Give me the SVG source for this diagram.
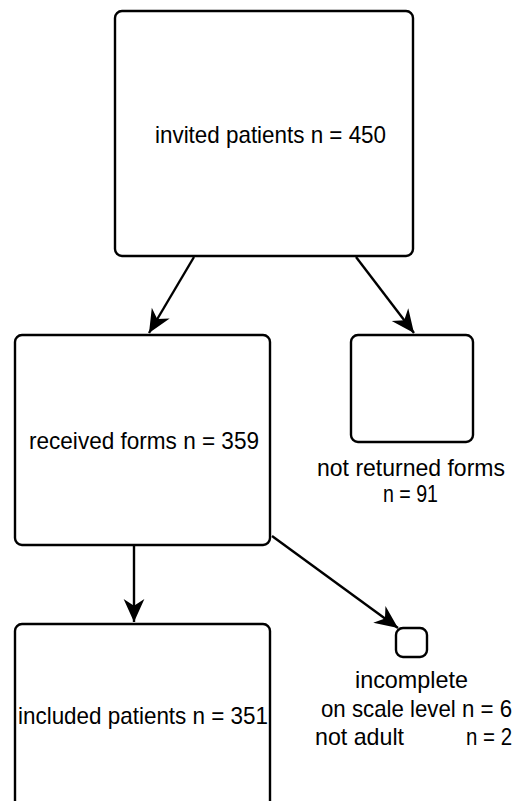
<svg xmlns="http://www.w3.org/2000/svg" width="522" height="801" viewBox="0 0 522 801">
<defs>
<marker id="arr" markerUnits="userSpaceOnUse" markerWidth="30" markerHeight="30" viewBox="-22 -12 26 24" refX="0" refY="0" orient="auto">
<path d="M0,0 L-20,-9 L-14,0 L-20,9 Z" fill="#000"/>
</marker>
</defs>
<style>
.box{fill:#fff;stroke:#000;stroke-width:2.4}
.t{font-family:"Liberation Sans",Arial,sans-serif;font-size:24px;fill:#000}
.c{stroke:#000;stroke-width:2.4;fill:none;marker-end:url(#arr)}
</style>
<rect width="522" height="801" fill="#fff"/>
<g id="connectors">
<line class="c" x1="194" y1="257" x2="149" y2="333"/>
<line class="c" x1="356" y1="257" x2="414" y2="333"/>
<line class="c" x1="134" y1="546" x2="134" y2="622"/>
<line class="c" x1="272" y1="536" x2="398" y2="628"/>
</g>
<g id="invited">
<rect class="box" x="115" y="11" width="298" height="245" rx="7"/>
<text class="t" x="155" y="143" textLength="231" lengthAdjust="spacingAndGlyphs">invited patients n = 450</text>
</g>
<g id="received">
<rect class="box" x="15" y="335" width="255" height="210" rx="7"/>
<text class="t" x="29" y="449" textLength="230" lengthAdjust="spacingAndGlyphs">received forms n = 359</text>
</g>
<g id="notreturned">
<rect class="box" x="351" y="335" width="122" height="107" rx="7"/>
<text class="t" x="317" y="476" textLength="188" lengthAdjust="spacingAndGlyphs">not returned forms</text>
<text class="t" x="383" y="502" textLength="55" lengthAdjust="spacingAndGlyphs">n = 91</text>
</g>
<g id="included">
<rect class="box" x="15" y="624" width="255" height="200" rx="7"/>
<text class="t" x="18" y="724" textLength="250" lengthAdjust="spacingAndGlyphs">included patients n = 351</text>
</g>
<g id="incomplete">
<rect class="box" x="396" y="628" width="31" height="29" rx="7"/>
<text class="t" x="355" y="688" textLength="113" lengthAdjust="spacingAndGlyphs">incomplete</text>
<text class="t" x="321" y="717" textLength="191" lengthAdjust="spacingAndGlyphs">on scale level n = 6</text>
<text class="t" x="315" y="745" textLength="89" lengthAdjust="spacingAndGlyphs">not adult</text>
<text class="t" x="466" y="745" textLength="46" lengthAdjust="spacingAndGlyphs">n = 2</text>
</g>
</svg>
